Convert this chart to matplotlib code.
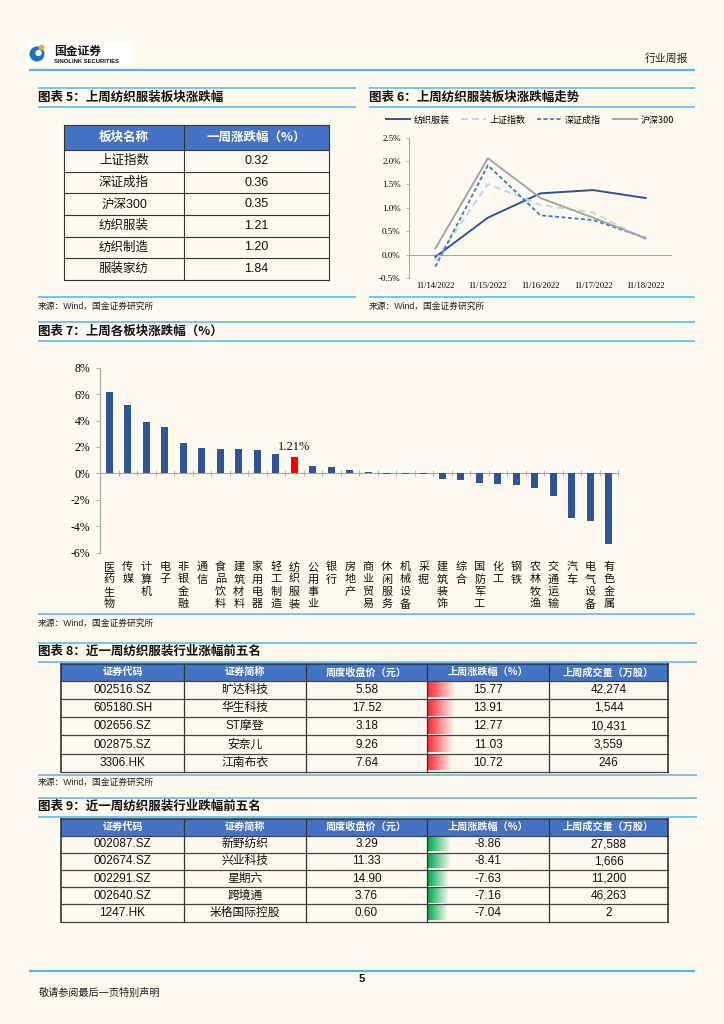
import matplotlib
matplotlib.use('Agg')
import matplotlib.pyplot as plt
import matplotlib.transforms as mtransforms
from matplotlib.patches import Rectangle, Circle
from matplotlib.colors import to_rgb
import numpy as np

# page geometry (pixels)
W, H = 724, 1024
BG = '#FFFAF0'
LINE_BLUE = '#55B5E6'
HEAD_BLUE = '#4472C4'
GRID_GRAY = '#A6A6A6'
CJK = 'Noto Sans CJK SC'
SANS = ['Liberation Sans', CJK]
SERIF = ['Liberation Serif', CJK]

plt.rcParams['font.family'] = [CJK, 'DejaVu Sans']
plt.rcParams['axes.unicode_minus'] = False

# ---- data ----
# 图表5
t5_names = ['上证指数', '深证成指', '沪深300', '纺织服装', '纺织制造', '服装家纺']
t5_values = [0.32, 0.36, 0.35, 1.21, 1.20, 1.84]

# 图表6
c6_dates = ['11/14/2022', '11/15/2022', '11/16/2022', '11/17/2022', '11/18/2022']
c6_fzfz = [-0.05, 0.79, 1.31, 1.38, 1.21]
c6_szzs = [-0.13, 1.51, 1.06, 0.90, 0.32]
c6_szcz = [-0.26, 1.91, 0.84, 0.74, 0.36]
c6_hs300 = [0.13, 2.06, 1.21, 0.79, 0.35]

# 图表7
c7_cats = ['医药生物', '传媒', '计算机', '电子', '非银金融', '通信', '食品饮料', '建筑材料',
           '家用电器', '轻工制造', '纺织服装', '公用事业', '银行', '房地产', '商业贸易',
           '休闲服务', '机械设备', '采掘', '建筑装饰', '综合', '国防军工', '化工', '钢铁',
           '农林牧渔', '交通运输', '汽车', '电气设备', '有色金属']
c7_vals = [6.18, 5.17, 3.91, 3.51, 2.30, 1.89, 1.87, 1.82, 1.77, 1.46, 1.21, 0.58, 0.50,
           0.25, 0.10, -0.06, -0.05, -0.02, -0.45, -0.53, -0.71, -0.81, -0.91, -1.08,
           -1.72, -3.38, -3.58, -5.35]
c7_highlight = '纺织服装'

# 图表8 / 图表9
table_heads = ['证券代码', '证券简称', '周度收盘价（元）', '上周涨跌幅（%）', '上周成交量（万股）']

t8_codes = ['002516.SZ', '605180.SH', '002656.SZ', '002875.SZ', '3306.HK']
t8_names = ['旷达科技', '华生科技', 'ST摩登', '安奈儿', '江南布衣']
t8_close = [5.58, 17.52, 3.18, 9.26, 7.64]
t8_chg = [15.77, 13.91, 12.77, 11.03, 10.72]
t8_vol = [42274, 1544, 10431, 3559, 246]

t9_codes = ['002087.SZ', '002674.SZ', '002291.SZ', '002640.SZ', '1247.HK']
t9_names = ['新野纺织', '兴业科技', '星期六', '跨境通', '米格国际控股']
t9_close = [3.29, 11.33, 14.90, 3.76, 0.60]
t9_chg = [-8.86, -8.41, -7.63, -7.16, -7.04]
t9_vol = [27588, 1666, 11200, 46263, 2]

source_text = '来源：Wind，国金证券研究所'


def rect(x0, y0, x1, y1):
    return [x0 / W, 1 - y1 / H, (x1 - x0) / W, (y1 - y0) / H]


fig = plt.figure(figsize=(W / 100, H / 100), dpi=100, facecolor=BG)
page = fig.add_axes([0, 0, 1, 1], zorder=0)
page.set_xlim(0, W)
page.set_ylim(H, 0)
page.set_autoscale_on(False)
page.axis('off')


def hline(y, x0, x1, lw=1.1, color=LINE_BLUE):
    page.plot([x0, x1], [y, y], color=color, lw=lw, solid_capstyle='butt')


def title(x, y, s):
    page.text(x, y, s, fontsize=9, fontweight='bold', va='center', ha='left', color='#111111')


def source(x, y):
    page.text(x, y, source_text, fontsize=6.3, va='center', ha='left', color='#222222',
              family=SANS)


# ---- header ----
page.add_patch(Rectangle((27, 42), 105, 24, fc='white', ec='none'))
page.add_patch(Circle((37, 54), 7.5, fc='#1E73BE', ec='none'))
page.add_patch(Circle((38.5, 53), 3.2, fc='white', ec='none'))
page.add_patch(Circle((41.5, 47.5), 2.8, fc='#F5A623', ec='none'))
page.text(54, 51, '国金证券', fontsize=8.5, fontweight='bold', va='center', color='#111111')
page.text(54, 61.5, 'SINOLINK SECURITIES', fontsize=4.2, fontweight='bold', va='center',
          family=SANS, color='#111111')
page.text(666, 59, '行业周报', fontsize=7.8, va='center', ha='center', color='#222222')
hline(70, 28.5, 695, lw=1.6)

# ---- 图表5 ----
hline(88, 38, 356)
hline(88, 369, 695)
title(38, 97.5, '图表 5：上周纺织服装板块涨跌幅')
title(369, 97.5, '图表 6：上周纺织服装板块涨跌幅走势')
hline(107, 38, 356)
hline(107, 369, 695)

t5_cols = [64, 184, 329]
t5_top, t5_head = 125, 150
t5_rh = (280 - 150) / len(t5_names)
page.add_patch(Rectangle((t5_cols[0], t5_top), t5_cols[2] - t5_cols[0], t5_head - t5_top,
                         fc=HEAD_BLUE, ec='none'))
for lab, c0, c1 in zip(['板块名称', '一周涨跌幅（%）'], t5_cols[:-1], t5_cols[1:]):
    page.text((c0 + c1) / 2, (t5_top + t5_head) / 2, lab, color='white', fontsize=9,
              fontweight='bold', ha='center', va='center')
for i, (n, v) in enumerate(zip(t5_names, t5_values)):
    yc = t5_head + (i + 0.5) * t5_rh
    page.text((t5_cols[0] + t5_cols[1]) / 2, yc, n, fontsize=9, ha='center', va='center',
              family=SANS, color='#111111')
    page.text((t5_cols[1] + t5_cols[2]) / 2, yc, f'{v:.2f}', fontsize=9, ha='center',
              va='center', family=SANS, color='#111111')
for i in range(len(t5_names) + 1):
    y = t5_head + i * t5_rh
    page.plot([t5_cols[0], t5_cols[2]], [y, y], color='#333333', lw=0.8)
page.plot([t5_cols[0], t5_cols[2]], [t5_top, t5_top], color='#333333', lw=0.8)
for x in t5_cols:
    page.plot([x, x], [t5_top, 280], color='#333333', lw=0.8)

hline(297, 38, 356)
hline(297, 369, 695)
source(38, 306)
source(369, 306)

# ---- 图表6 ----
ax6 = fig.add_axes(rect(409, 137.7, 672, 278), zorder=2)
ax6.set_facecolor('none')
xs6 = np.arange(len(c6_dates))
ax6.plot(xs6, c6_fzfz, color='#2F5597', lw=1.4, label='纺织服装')
ax6.plot(xs6, c6_szzs, color='#BDD7EE', lw=1.4, ls=(0, (3.5, 2.2)), label='上证指数')
ax6.plot(xs6, c6_szcz, color='#3D7CC9', lw=1.3, ls=(0, (2.2, 1.4)), label='深证成指')
ax6.plot(xs6, c6_hs300, color='#A5A5A5', lw=1.4, label='沪深300')
ax6.axhline(0, color=GRID_GRAY, lw=0.8, zorder=0)
ax6.set_xlim(-0.5, len(c6_dates) - 0.5)
ax6.set_ylim(-0.5, 2.5)
ax6.set_yticks(np.arange(-0.5, 2.51, 0.5))
ax6.set_yticklabels([f'{v:.1f}%' for v in np.arange(-0.5, 2.51, 0.5)], family=SERIF,
                    fontsize=6.5)
ax6.set_xticks(xs6)
ax6.set_xticklabels(c6_dates, family=SERIF, fontsize=6.2)
ax6.tick_params(axis='x', length=0, pad=3)
ax6.tick_params(axis='y', length=2, width=0.6, color=GRID_GRAY, pad=4)
for s in ['top', 'right', 'bottom']:
    ax6.spines[s].set_visible(False)
ax6.spines['left'].set_color(GRID_GRAY)
ax6.spines['left'].set_linewidth(0.8)
fig.legend(*ax6.get_legend_handles_labels(), loc='center',
           bbox_to_anchor=(530 / W, 1 - 120 / H), ncol=4, frameon=False, fontsize=6.5,
           handlelength=2.7, columnspacing=1.3, handletextpad=0.4)

# ---- 图表7 ----
hline(322, 38, 695)
title(38, 331.5, '图表 7：上周各板块涨跌幅（%）')
hline(341, 38, 695)

ax7 = fig.add_axes(rect(100, 367.7, 618, 552.7), zorder=2)
ax7.set_facecolor('none')
xs7 = np.arange(len(c7_cats))
colors7 = ['#FF0000' if c == c7_highlight else '#2F5597' for c in c7_cats]
ax7.bar(xs7, c7_vals, width=0.38, color=colors7, zorder=3)
hi = c7_cats.index(c7_highlight)
ax7.annotate(f'{c7_vals[hi]:.2f}%', (hi, c7_vals[hi]), xytext=(0, 3),
             textcoords='offset points', ha='center', va='bottom', family=SERIF,
             fontsize=9, color='#111111')
ax7.set_xlim(-0.5, len(c7_cats) - 0.5)
ax7.set_ylim(-6, 8)
ax7.set_yticks(range(-6, 9, 2))
ax7.set_yticklabels([f'{v}%' for v in range(-6, 9, 2)], family=SERIF, fontsize=8.5)
ax7.set_xticks(np.arange(-0.5, len(c7_cats), 1))
ax7.set_xticklabels([])
ax7.tick_params(axis='x', direction='inout', length=4, width=0.6, color=GRID_GRAY)
ax7.tick_params(axis='y', length=3, width=0.6, color=GRID_GRAY, pad=4)
for s in ['top', 'right']:
    ax7.spines[s].set_visible(False)
ax7.spines['bottom'].set_position(('data', 0))
for s in ['left', 'bottom']:
    ax7.spines[s].set_color(GRID_GRAY)
    ax7.spines[s].set_linewidth(0.8)

lab_tr = mtransforms.blended_transform_factory(ax7.transData, page.transData)
for i, c in enumerate(c7_cats):
    for j, ch in enumerate(c):
        page.text(i, 567 + j * 12.4, ch, transform=lab_tr, fontsize=8, ha='center',
                  va='center', color='#111111')

hline(613.5, 38, 695)
source(38, 623)

# ---- 图表8 / 图表9 ----
tb_cols = [61, 184, 306, 427, 549, 668]


def draw_table(top, head_bot, bottom, codes, names, close, chg, vol, bar_color, lmin, lmax):
    n = len(codes)
    rh = (bottom - head_bot) / n
    page.add_patch(Rectangle((tb_cols[0], top), tb_cols[-1] - tb_cols[0], head_bot - top,
                             fc=HEAD_BLUE, ec='none'))
    for lab, c0, c1 in zip(table_heads, tb_cols[:-1], tb_cols[1:]):
        page.text((c0 + c1) / 2, (top + head_bot) / 2, lab, color='white', fontsize=7.3,
                  fontweight='bold', ha='center', va='center')
    amin, amax = min(abs(v) for v in chg), max(abs(v) for v in chg)
    rgb = np.array(to_rgb(bar_color))
    bg = np.array(to_rgb(BG))
    t = np.linspace(0, 1, 80)[:, None]
    grad = (rgb * (1 - t) + bg * t)[None, :, :]
    for i in range(n):
        y0 = head_bot + i * rh
        yc = y0 + rh / 2
        vals = [codes[i], names[i], f'{close[i]:.2f}', f'{chg[i]:.2f}', f'{vol[i]:,}']
        # gradient data bar
        L = lmin + (abs(chg[i]) - amin) / (amax - amin) * (lmax - lmin)
        page.imshow(grad, extent=(tb_cols[3] + 1, tb_cols[3] + 1 + L, y0 + rh - 1.5, y0 + 1.5),
                    aspect='auto', interpolation='bilinear', zorder=1)
        for s, c0, c1 in zip(vals, tb_cols[:-1], tb_cols[1:]):
            page.text((c0 + c1) / 2, yc, s, fontsize=8.5, ha='center', va='center',
                      family=SANS, color='#111111', zorder=3)
    for i in range(n + 1):
        y = head_bot + i * rh
        page.plot([tb_cols[0], tb_cols[-1]], [y, y], color='#444444', lw=0.9, zorder=4)
    page.plot([tb_cols[0], tb_cols[-1]], [top, top], color='#333333', lw=1.1, zorder=4)
    for j, x in enumerate(tb_cols):
        page.plot([x, x], [top, bottom], color='#333333',
                  lw=1.2 if j in (0, len(tb_cols) - 1) else 0.9, zorder=4)


hline(643, 38, 697)
title(38, 651.5, '图表 8：近一周纺织服装行业涨幅前五名')
hline(662, 38, 697)
draw_table(664, 680.5, 772, t8_codes, t8_names, t8_close, t8_chg, t8_vol, '#FF2A36', 24, 28)
hline(774.5, 38, 697)
source(38, 782)

hline(798, 38, 697)
title(38, 806.5, '图表 9：近一周纺织服装行业跌幅前五名')
hline(816.5, 38, 697)
draw_table(818.5, 835.5, 921.5, t9_codes, t9_names, t9_close, t9_chg, t9_vol, '#00A850', 20, 23)

# ---- footer ----
hline(971, 28.5, 695, lw=1.6)
page.text(362, 979.5, '5', fontsize=8, fontweight='bold', ha='center', va='center',
          family=SANS, color='#111111')
page.text(39, 993, '敬请参阅最后一页特别声明', fontsize=7.3, va='center', ha='left',
          color='#222222')

fig.savefig('out.png', dpi=100, facecolor=BG)
